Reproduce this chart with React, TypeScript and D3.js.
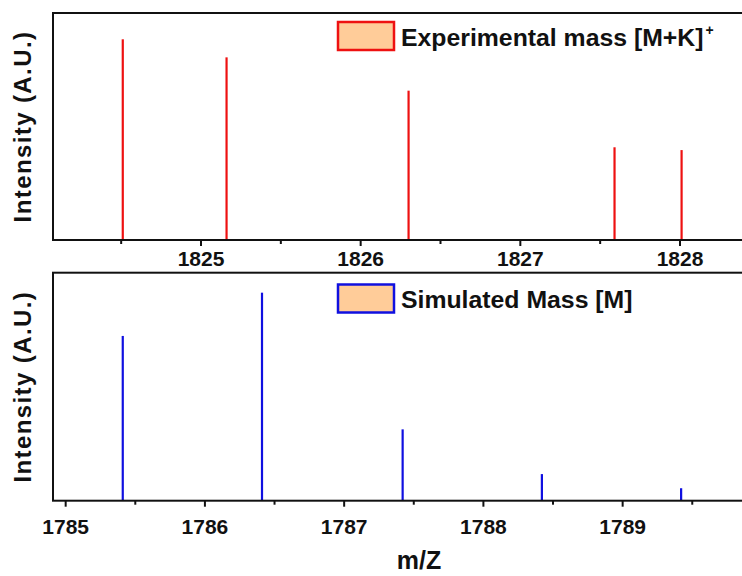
import React from "react";
import * as d3 from "d3";

const topMz = [1824.51, 1825.16, 1826.3, 1827.59, 1828.01];
const topIntensity = [100, 91.0, 74.4, 46.2, 44.8];
const topTicks = [1825, 1826, 1827, 1828];
const topMinorTicks = [1824.5, 1825.5, 1826.5, 1827.5];
const topLegend = "Experimental mass [M+K]";
const topLegendSup = "+";

const bottomMz = [1785.41, 1786.41, 1787.42, 1788.42, 1789.42];
const bottomIntensity = [79.2, 100, 34.3, 12.8, 6.0];
const bottomTicks = [1785, 1786, 1787, 1788, 1789];
const bottomMinorTicks = [1785.5, 1786.5, 1787.5, 1788.5, 1789.5];
const bottomLegend = "Simulated Mass [M]";

const yLabel = "Intensity (A.U.)";
const xLabel = "m/Z";

const FONT = "'Liberation Sans', Arial, sans-serif";
const W = 742;
const H = 576;

type PanelProps = {
  mz: number[];
  intensity: number[];
  ticks: number[];
  minor: number[];
  xDomain: [number, number];
  yMax: number;
  top: number;
  bottom: number;
  color: string;
  legend: string;
  legendSup?: string;
  legendY: number;
  labelDy: number;
};

function Panel(p: PanelProps) {
  const left = 53;
  const right = 752;
  const x = d3.scaleLinear().domain(p.xDomain).range([left, right]);
  const y = d3.scaleLinear().domain([0, p.yMax]).range([p.bottom, p.top]);
  const midY = (p.top + p.bottom) / 2;
  return (
    <g>
      {p.mz.map((m, i) => (
        <line
          key={"s" + i}
          x1={x(m)}
          x2={x(m)}
          y1={y(0)}
          y2={y(p.intensity[i])}
          stroke={p.color}
          strokeWidth={2.2}
        />
      ))}
      <rect
        x={left}
        y={p.top}
        width={right - left}
        height={p.bottom - p.top}
        fill="none"
        stroke="#111"
        strokeWidth={2}
      />
      {p.ticks.map((t) => (
        <g key={"t" + t}>
          <line x1={x(t)} x2={x(t)} y1={p.bottom} y2={p.bottom + 6} stroke="#111" strokeWidth={2} />
          <text
            x={x(t)}
            y={p.bottom + p.labelDy}
            textAnchor="middle"
            fontFamily={FONT}
            fontWeight="bold"
            fontSize={21}
            fill="#111"
          >
            {t}
          </text>
        </g>
      ))}
      {p.minor.map((t) => (
        <line key={"m" + t} x1={x(t)} x2={x(t)} y1={p.bottom} y2={p.bottom + 4} stroke="#111" strokeWidth={2} />
      ))}
      <rect
        x={338}
        y={p.legendY}
        width={56}
        height={28}
        fill="#FFCC99"
        stroke={p.color}
        strokeWidth={2.5}
      />
      <text
        x={401}
        y={p.legendY + 23.5}
        fontFamily={FONT}
        fontWeight="bold"
        fontSize={24.8}
        fill="#111"
      >
        {p.legend}
        {p.legendSup ? (
          <tspan fontSize={14} dy={-11} dx={2}>
            {p.legendSup}
          </tspan>
        ) : null}
      </text>
      <text
        transform={`translate(31,${midY}) rotate(-90)`}
        textAnchor="middle"
        fontFamily={FONT}
        fontWeight="bold"
        fontSize={24}
        letterSpacing={1.4}
        fill="#111"
      >
        {yLabel}
      </text>
    </g>
  );
}

export default function App() {
  return (
    <svg
      width={W}
      height={H}
      style={{ position: "absolute", left: 0, top: 0, background: "#fff" }}
    >
      <rect x={0} y={0} width={W} height={H} fill="#fff" />
      <Panel
        mz={topMz}
        intensity={topIntensity}
        ticks={topTicks}
        minor={topMinorTicks}
        xDomain={[1824.073, 1828.451]}
        yMax={113.1}
        top={13}
        bottom={240}
        color="#EE1111"
        legend={topLegend}
        legendSup={topLegendSup}
        legendY={22}
        labelDy={26}
      />
      <Panel
        mz={bottomMz}
        intensity={bottomIntensity}
        ticks={bottomTicks}
        minor={bottomMinorTicks}
        xDomain={[1784.909, 1789.929]}
        yMax={109.6}
        top={272.7}
        bottom={500.7}
        color="#1010E0"
        legend={bottomLegend}
        legendY={284.5}
        labelDy={33}
      />
      <text
        x={419}
        y={569}
        textAnchor="middle"
        fontFamily={FONT}
        fontWeight="bold"
        fontSize={25}
        fill="#111"
      >
        {xLabel}
      </text>
    </svg>
  );
}
